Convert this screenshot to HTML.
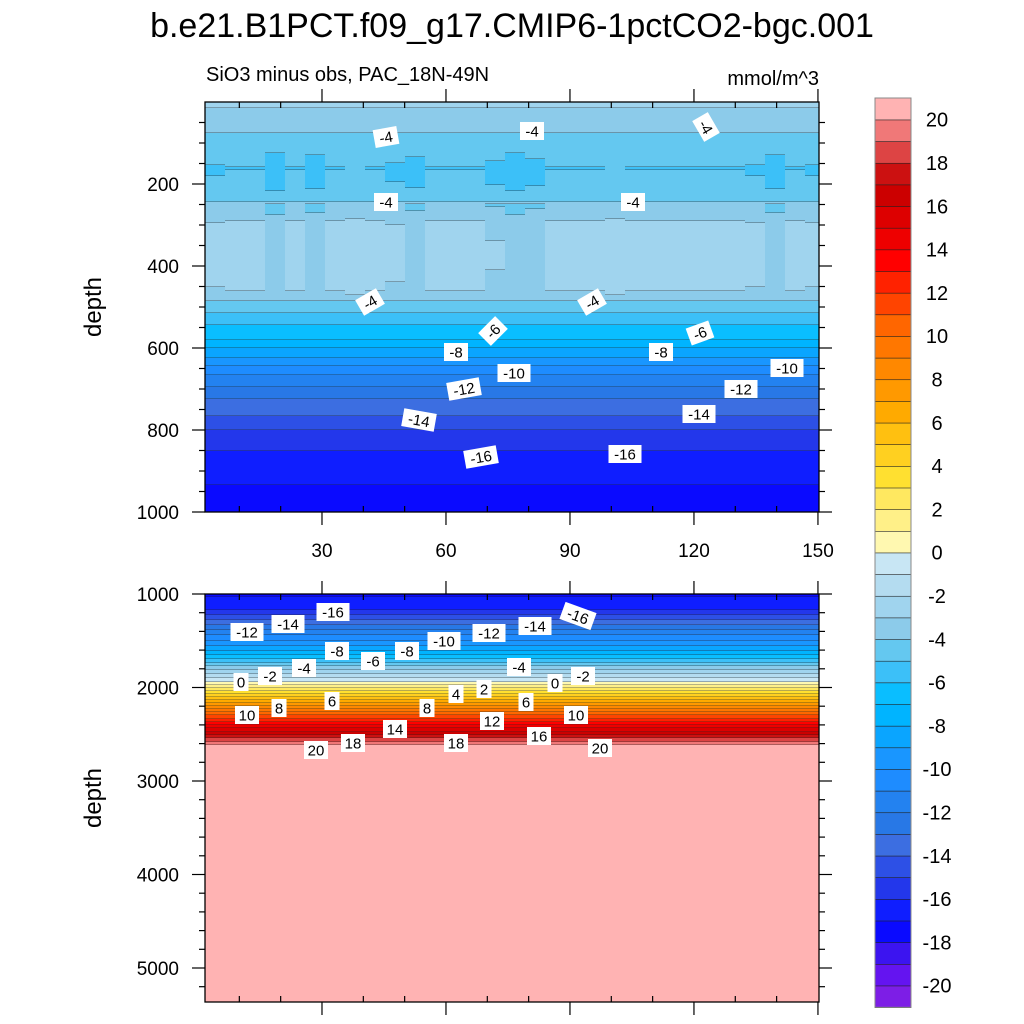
<!DOCTYPE html>
<html><head><meta charset="utf-8">
<style>
html,body{margin:0;padding:0;background:#fff;}
svg{display:block;font-family:"Liberation Sans",sans-serif;}
</style></head>
<body>
<svg id="chart" width="1024" height="1024" viewBox="0 0 1024 1024">
<text x="512" y="37" font-size="34" text-anchor="middle">b.e21.B1PCT.f09_g17.CMIP6-1pctCO2-bgc.001</text>
<text x="206" y="81" font-size="20">SiO3 minus obs, PAC_18N-49N</text>
<text x="819" y="85" font-size="20" text-anchor="end">mmol/m^3</text>
<g id="top-fill"></g>
<g id="bot-fill"></g>
<g id="axes"></g>
<g id="labels"></g>
<g id="cbar"></g>
<text transform="translate(101,307) rotate(-90)" font-size="24" text-anchor="middle">depth</text>
<text transform="translate(101,798) rotate(-90)" font-size="24" text-anchor="middle">depth</text>
</svg>
<script>
const colors = ["#7D1EE6","#6414F0","#3C14F0","#0A0AFF","#0F1EFF","#2337EB","#2D50E6","#3C6EE1","#2878E6","#2382F0","#1E8CFF","#1996FF","#0AA5FF","#00B4FF","#0ABEFF","#3CC0F8","#64C8F0","#8CCBEA","#A0D4EE","#B4DCF0","#C8E6F4","#FFF8B0","#FFF088","#FFE860","#FFE030","#FFD020","#FFC010","#FFAA00","#FF9900","#FF8800","#FF7700","#FF6600","#FF4400","#FF2200","#FF0000","#EE0000","#DD0000","#CC0000","#CC1111","#DD4444","#F07878","#FFB3B3"];
const cbarLabels = [20,18,16,14,12,10,8,6,4,2,0,-2,-4,-6,-8,-10,-12,-14,-16,-18,-20];
const topDepths = [0,15,75,125,160,200,230,245,280,300,380,440,470,485,515,545,580,600,625,645,665,695,725,765,800,850,935,1000];
const topValues = [-2.7,-3,-4,-4.6,-5.1,-4.9,-4.3,-4,-3.3,-2.9,-2.7,-2.9,-3.2,-4,-5,-6,-7,-8,-9,-10,-11,-12,-13,-14,-15,-16,-17,-17.2];
const colOffset = [0,0.1,0.1,-0.6,0.1,-0.5,0.1,0.2,0.1,-0.1,-0.4,0.1,0.1,0.1,-0.2,-0.6,-0.3,0.1,0.1,0.1,0.2,0.1,0.1,0.1,0.1,0.1,0.1,0,-0.5,0.1,0];
const botDepths = [1000,1030,1170,1385,1610,1940,2262,2615,2700,5400];
const botValues = [-17.3,-17,-16,-12,-8,0,10,20,21,21.5];
const xTicks = [30,60,90,120,150];
const topYTicks = [200,400,600,800,1000];
const botYTicks = [1000,2000,3000,4000,5000];
const topLabels = [["-4",386,137,-10],["-4",532,131,0],["-4",706,127,60],["-4",386,202,0],["-4",633,202,0],["-4",370,302,-30],["-4",592,302,-30],["-6",493,331,-45],["-6",700,333,-20],["-8",456,352,0],["-8",661,352,0],["-10",514,373,0],["-10",787,368,0],["-12",464,389,-10],["-12",741,389,0],["-14",419,420,10],["-14",699,414,0],["-16",481,457,-10],["-16",625,454,0]];
const botLabels = [["-16",333,612,0],["-14",288,624,0],["-12",247,632,0],["-8",337,651,0],["-6",373,661,0],["-4",304,668,0],["-2",270,676,0],["0",241,682,0],["-10",444,641,0],["-8",407,651,0],["-12",489,633,0],["-14",535,626,0],["-16",578,616,20],["-4",519,667,0],["2",484,689,0],["0",555,683,0],["-2",583,676,0],["4",456,694,0],["6",332,701,0],["8",279,708,0],["10",247,715,0],["8",427,708,0],["6",526,702,0],["12",492,721,0],["10",576,715,0],["14",395,729,0],["16",539,736,0],["18",353,743,0],["18",456,743,0],["20",316,750,0],["20",600,748,0]];

const NS="http://www.w3.org/2000/svg";
function mk(tag,attrs,parent){const e=document.createElementNS(NS,tag);for(const k in attrs)e.setAttribute(k,attrs[k]);parent.appendChild(e);return e;}
function interp(xs,ys,x){if(x<=xs[0])return ys[0];for(let i=1;i<xs.length;i++){if(x<=xs[i]){const t=(x-xs[i-1])/(xs[i]-xs[i-1]);return ys[i-1]+t*(ys[i]-ys[i-1]);}}return ys[ys.length-1];}
function band(v){return Math.max(0,Math.min(41,Math.floor(v)+21));}
const X0=205,X1=819;
function xScale(v){return 198+v*4.133;}
function topY(d){return 102+d*0.41;}
function botY(d){return 594+(d-1000)*0.0935;}
function offsetAt(x){const i=Math.min(colOffset.length-1,Math.max(0,Math.floor((x-X0)/20)));return colOffset[i];}

function drawPanel(g,yTop,yBot,depthOf,valueOf){
  const cw=4;
  for(let x=X0;x<X1;x+=cw){
    const w=Math.min(cw,X1-x);
    let startY=yTop,cur=band(valueOf(depthOf(yTop+0.5),x+w/2));
    for(let y=yTop+1;y<=yBot;y++){
      const b=y<yBot?band(valueOf(depthOf(y+0.5),x+w/2)):-99;
      if(b!==cur){
        const r=mk('rect',{x:x,y:startY,width:w+0.5,height:y-startY+0.5,fill:colors[cur]},g);
        
        
        if(y<yBot){const l=mk('rect',{x:x,y:y-0.5,width:w+0.3,height:1,fill:'#222',opacity:0.65},g);
          
          }
        startY=y;cur=b;
      }
    }
  }
}
function topVal(d,x){let v=interp(topDepths,topValues,d);let w=0;if(d>250&&d<470)w=1;else if(d>120&&d<220)w=0.7;return v+offsetAt(x)*w;}
function botVal(d,x){return interp(botDepths,botValues,d);}
drawPanel(document.getElementById('top-fill'),102,512,y=>(y-102)/0.41,topVal);
drawPanel(document.getElementById('bot-fill'),594,1002,y=>1000+(y-594)/0.0935,botVal);

const ax=document.getElementById('axes');
function line(x1,y1,x2,y2,name){const l=mk('line',{x1:x1,y1:y1,x2:x2,y2:y2,stroke:'#000','stroke-width':1.2},ax);return l;}
function txt(s,x,y,size,anchor,name,parent){const t=mk('text',{x:x,y:y,'font-size':size,'text-anchor':anchor},parent||ax);t.textContent=s;return t;}
[[102,512],[594,1002]].forEach(([a,b],pi)=>{
  const fr=mk('rect',{x:X0,y:a,width:X1-X0,height:b-a,fill:'none',stroke:'#000','stroke-width':1.3},ax);
  
  
  for(let v=10;v<=150;v+=10){const x=xScale(v);if(x<X0||x>X1)continue;
    if(v%30===0){line(x,b,x,b+13,'x-major-tick');line(x,a,x,a-13,'x-major-tick');}
    else{line(x,b,x,b-6,'x-minor-tick');line(x,a,x,a+6,'x-minor-tick');}}
});
xTicks.forEach(v=>txt(String(v),xScale(v),557,19,'middle','x-tick-label'));
for(let d=50;d<=1000;d+=50){const y=topY(d);const maj=d%200===0;const L=maj?13:6;line(X0,y,X0-L,y,maj?'y-major-tick':'y-minor-tick');line(X1,y,X1+L,y,maj?'y-major-tick':'y-minor-tick');}
topYTicks.forEach(d=>txt(String(d),179,topY(d)+7,19,'end','top-y-tick-label'));
for(let d=1000;d<=5300;d+=200){const y=botY(d);const maj=d%1000===0;const L=maj?13:6;line(X0,y,X0-L,y,maj?'y-major-tick':'y-minor-tick');line(X1,y,X1+L,y,maj?'y-major-tick':'y-minor-tick');}
botYTicks.forEach(d=>txt(String(d),179,botY(d)+7,19,'end','bottom-y-tick-label'));

const lg=document.getElementById('labels');
function addLabels(arr){arr.forEach(([s,x,y,r])=>{
  const g=mk('g',{transform:`translate(${x},${y}) rotate(${r})`},lg);
  
  
  const w=s.length*9+6;
  mk('rect',{x:-w/2,y:-9,width:w,height:18,fill:'#fff'},g);
  const t=mk('text',{x:0,y:5.5,'font-size':15,'text-anchor':'middle'},g);t.textContent=s;
});}
addLabels(topLabels);addLabels(botLabels);

const cb=document.getElementById('cbar');
const bh=21.65;
for(let i=0;i<42;i++){const y=98+(41-i)*bh;
  const r=mk('rect',{x:875,y:y,width:36,height:bh+0.3,fill:colors[i],stroke:'#222','stroke-width':0.6},cb);
  
  }
const cbf=mk('rect',{x:875,y:98,width:36,height:42*bh,fill:'none',stroke:'#888','stroke-width':1},cb);


cbarLabels.forEach(L=>{const y=98+(21-L)*bh;txt(String(L),937,y+7,20,'middle','colorbar-label',cb);});
</script>
</body></html>
